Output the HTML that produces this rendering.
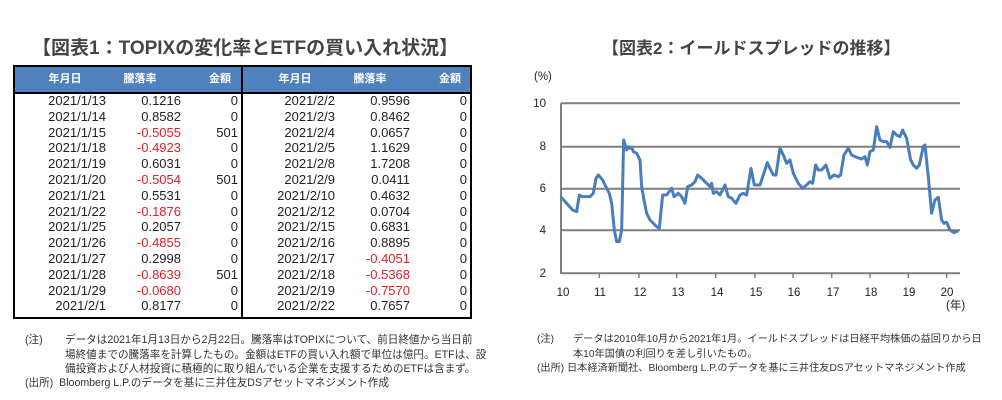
<!DOCTYPE html>
<html><head><meta charset="utf-8"><style>
body{margin:0;width:1002px;height:400px;background:#fff;font-family:"Liberation Sans","Noto Sans CJK JP",sans-serif;position:relative;overflow:hidden;color:#222}
.t{position:absolute;font-weight:bold;font-size:17px;color:#444;white-space:nowrap}
.box{position:absolute;left:13px;top:65px;width:455px;height:250px;border:2px solid #000}
.hd{position:absolute;left:0;top:0;width:455px;height:25px;background:#4f81bd;border-bottom:2px solid #000}
.c{position:absolute;font-size:13px;white-space:nowrap;text-align:right;line-height:15px}
.h{color:#fff;font-weight:bold;font-size:11px;line-height:25px;text-align:center}
.r{color:#e0202a}
.n{position:absolute;font-size:10.6px;color:#333;line-height:14.5px;white-space:nowrap}
.n2{font-size:10.2px}
</style></head><body>
<div class="t" style="left:32px;top:33px;font-size:19px">【図表1：TOPIXの変化率とETFの買い入れ状況】</div>
<div class="t" style="left:602px;top:34px">【図表2：イールドスプレッドの推移】</div>
<div class="box"><div class="hd"></div>
<div style="position:absolute;left:226px;top:0;width:2px;height:250px;background:#000"></div>
<div id="tb"></div></div>
<svg style="position:absolute;left:0;top:0" width="1002" height="400">
<g stroke="#7f7f7f" stroke-width="2" fill="none">
<line x1="561" y1="103.3" x2="960" y2="103.3"/><line x1="561" y1="146.7" x2="960" y2="146.7"/>
<line x1="561" y1="188.7" x2="960" y2="188.7"/><line x1="561" y1="230.3" x2="960" y2="230.3"/>
<line x1="561" y1="273.3" x2="960" y2="273.3"/><line x1="561" y1="103" x2="561" y2="274"/>
</g>
<g stroke="#7f7f7f" stroke-width="1.5"><line x1="599.3" y1="273" x2="599.3" y2="278"/><line x1="639" y1="273" x2="639" y2="278"/><line x1="676.7" y1="273" x2="676.7" y2="278"/><line x1="715.7" y1="273" x2="715.7" y2="278"/><line x1="755" y1="273" x2="755" y2="278"/><line x1="793" y1="273" x2="793" y2="278"/><line x1="831.7" y1="273" x2="831.7" y2="278"/><line x1="870" y1="273" x2="870" y2="278"/><line x1="908.3" y1="273" x2="908.3" y2="278"/><line x1="946.7" y1="273" x2="946.7" y2="278"/></g>
<g transform="translate(520,60) scale(0.3333)"><polyline fill="none" stroke="#4a7ebb" stroke-width="9" stroke-linejoin="round" points="122,410 140,430 158,450 170,455 178,405 186,410 210,410 220,400 228,355 235,345 248,360 260,385 268,400 275,430 283,510 290,545 298,545 305,510 311,240 320,270 325,260 330,265 335,262 340,275 350,280 360,300 365,380 372,420 380,460 390,480 400,490 410,500 418,505 428,405 440,405 455,385 462,410 475,400 485,410 495,430 503,380 515,375 525,365 533,345 545,355 560,370 570,380 575,370 580,400 590,395 600,405 615,375 625,410 635,415 648,430 660,405 670,400 680,405 693,325 703,375 720,375 730,345 742,308 750,325 760,345 768,345 780,265 790,285 800,310 810,300 820,340 835,370 848,385 860,375 870,365 878,370 887,315 895,330 905,330 918,315 930,355 942,345 955,350 962,345 972,285 985,265 995,285 1010,292 1025,297 1035,290 1042,315 1050,275 1060,270 1070,200 1080,240 1090,245 1100,245 1110,262 1120,215 1130,225 1140,230 1148,210 1160,235 1172,300 1180,315 1190,325 1198,315 1210,260 1215,255 1225,350 1235,460 1245,420 1255,412 1265,480 1272,490 1280,487 1290,510 1302,518 1315,512"/></g>
<g font-size="11.5" fill="#222" font-family="Liberation Sans,sans-serif">
<text x="534" y="80">(%)</text>
<g text-anchor="end"><text x="546" y="107">10</text><text x="546" y="150">8</text><text x="546" y="192">6</text><text x="546" y="234">4</text><text x="546" y="277">2</text></g>
<g text-anchor="middle"><text x="563" y="296">10</text><text x="600" y="296">11</text><text x="640" y="296">12</text><text x="678" y="296">13</text><text x="717" y="296">14</text><text x="756" y="296">15</text><text x="794" y="296">16</text><text x="833" y="296">17</text><text x="871" y="296">18</text><text x="909" y="296">19</text><text x="947" y="296">20</text></g>
<text x="946" y="309" font-family="Liberation Sans,Noto Sans CJK JP,sans-serif">(年)</text></g>
</svg>
<div class="n" style="left:25px;top:333px">(注)</div>
<div class="n" style="left:65px;top:333px">データは2021年1月13日から2月22日。騰落率はTOPIXについて、前日終値から当日前<br>場終値までの騰落率を計算したもの。金額はETFの買い入れ額で単位は億円。ETFは、設<br>備投資および人材投資に積極的に取り組んでいる企業を支援するためのETFは含まず。</div>
<div class="n" style="left:25px;top:376px">(出所)&nbsp; Bloomberg L.P.のデータを基に三井住友DSアセットマネジメント作成</div>
<div class="n n2" style="left:537px;top:333px">(注)</div>
<div class="n n2" style="left:573px;top:333px">データは2010年10月から2021年1月。イールドスプレッドは日経平均株価の益回りから日<br>本10年国債の利回りを差し引いたもの。</div>
<div class="n n2" style="left:537px;top:362px">(出所)&nbsp;日本経済新聞社、Bloomberg L.P.のデータを基に三井住友DSアセットマネジメント作成</div>
<script>
var L=[["2021/1/13","0.1216","0"],["2021/1/14","0.8582","0"],["2021/1/15","-0.5055","501"],["2021/1/18","-0.4923","0"],["2021/1/19","0.6031","0"],["2021/1/20","-0.5054","501"],["2021/1/21","0.5531","0"],["2021/1/22","-0.1876","0"],["2021/1/25","0.2057","0"],["2021/1/26","-0.4855","0"],["2021/1/27","0.2998","0"],["2021/1/28","-0.8639","501"],["2021/1/29","-0.0680","0"],["2021/2/1","0.8177","0"]];
var R=[["2021/2/2","0.9596","0"],["2021/2/3","0.8462","0"],["2021/2/4","0.0657","0"],["2021/2/5","1.1629","0"],["2021/2/8","1.7208","0"],["2021/2/9","0.0411","0"],["2021/2/10","0.4632","0"],["2021/2/12","0.0704","0"],["2021/2/15","0.6831","0"],["2021/2/16","0.8895","0"],["2021/2/17","-0.4051","0"],["2021/2/18","-0.5368","0"],["2021/2/19","-0.7570","0"],["2021/2/22","0.7657","0"]];
var h='';
function hd(x,w,t){h+='<div class="c h" style="left:'+x+'px;top:0;width:'+w+'px">'+t+'</div>';}
hd(20,60,'年月日');hd(85,80,'騰落率');hd(180,50,'金額');hd(250,60,'年月日');hd(315,80,'騰落率');hd(410,50,'金額');
function col(d,o){d.forEach(function(r,i){var y=26+i*15.8;
h+='<div class="c" style="left:'+(o)+'px;width:'+(91)+'px;top:'+y+'px">'+r[0]+'</div>';
h+='<div class="c'+(r[1][0]=='-'?' r':'')+'" style="left:'+(o+91)+'px;width:75px;top:'+y+'px">'+r[1]+'</div>';
h+='<div class="c" style="left:'+(o+166)+'px;width:57px;top:'+y+'px">'+r[2]+'</div>';});}
col(L,0);col(R,229);
document.getElementById('tb').innerHTML=h;
</script>
</body></html>
